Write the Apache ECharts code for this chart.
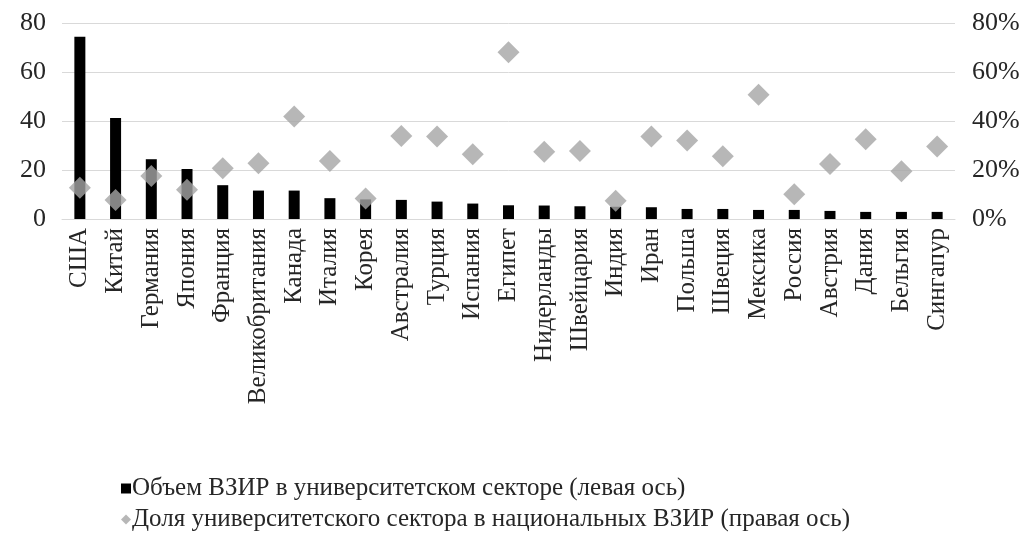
<!DOCTYPE html>
<html><head><meta charset="utf-8">
<script src="https://cdn.jsdelivr.net/npm/echarts@6/dist/echarts.min.js"></script>
<style>html,body{margin:0;padding:0;background:#fff}#c{width:1030px;height:538px}</style>
</head><body><div id="c"></div>
<script>
const categories = ["США","Китай","Германия","Япония","Франция","Великобритания","Канада","Италия","Корея","Австралия","Турция","Испания","Египет","Нидерланды","Швейцария","Индия","Иран","Польша","Швеция","Мексика","Россия","Австрия","Дания","Бельгия","Сингапур"];
const volumeValues = [74.4,41.2,24.4,20.4,13.8,11.6,11.6,8.5,8.0,7.8,7.1,6.3,5.6,5.5,5.2,5.0,4.8,4.1,4.1,3.7,3.7,3.3,2.9,2.9,2.9];
const shareValues = [12.8,7.8,17.6,11.9,20.7,22.8,41.8,23.7,8.4,33.9,33.7,26.4,68.1,27.4,27.8,7.4,33.7,32.0,25.6,50.7,10.1,22.5,32.6,19.5,29.6];
const leftTicks = {min:0,max:80,interval:20};
const rightTicks = {min:0,max:80,interval:20};
const seriesNames = ["Объем ВЗИР в университетском секторе (левая ось)","Доля университетского сектора в национальных ВЗИР (правая ось)"];

const font = "'Liberation Serif','Times New Roman',serif";
const legendText = {fontFamily:font,fontSize:25,color:'#262626',padding:[0,0,0,-4]};
const chart = echarts.init(document.getElementById('c'));
chart.setOption({
  animation:false,
  backgroundColor:'#fff',
  grid:{left:62,right:75,top:23,bottom:319,containLabel:false},
  legend:[
    {left:116,top:471,itemWidth:10,itemHeight:10,textStyle:legendText,
      data:[{name:seriesNames[0],icon:'rect'}]},
    {left:116,top:502,itemWidth:10,itemHeight:10,textStyle:legendText,
      data:[{name:seriesNames[1],icon:'diamond'}]}
  ],
  xAxis:{type:'category',data:categories,
    axisLine:{show:true,lineStyle:{color:'#d9d9d9',width:1}},
    axisTick:{show:false},
    axisLabel:{rotate:90,interval:0,fontFamily:font,fontSize:25,color:'#262626',margin:9}
  },
  yAxis:[
    {type:'value',min:leftTicks.min,max:leftTicks.max,interval:leftTicks.interval,
      axisLine:{show:false},axisTick:{show:false},
      splitLine:{lineStyle:{color:'#d9d9d9',width:1}},
      axisLabel:{fontFamily:font,fontSize:26,color:'#262626',margin:16}},
    {type:'value',min:rightTicks.min,max:rightTicks.max,interval:rightTicks.interval,
      axisLine:{show:false},axisTick:{show:false},splitLine:{show:false},
      axisLabel:{fontFamily:font,fontSize:26,color:'#262626',margin:17,formatter:'{value}%'}}
  ],
  series:[
    {name:seriesNames[0],type:'bar',yAxisIndex:0,data:volumeValues,barWidth:11,
      itemStyle:{color:'#000'}},
    {name:seriesNames[1],type:'scatter',yAxisIndex:1,data:shareValues,symbol:'diamond',symbolSize:[22,22],
      itemStyle:{color:'#a5a5a5'},z:5}
  ]
});
</script></body></html>
